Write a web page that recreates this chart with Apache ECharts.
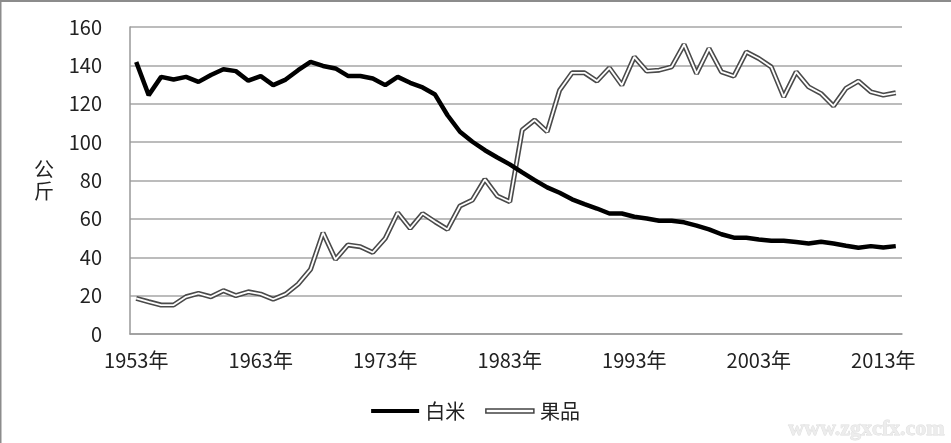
<!DOCTYPE html>
<html>
<head>
<meta charset="utf-8">
<script src="https://cdn.jsdelivr.net/npm/echarts@6/dist/echarts.min.js"></script>
<style>
html,body{margin:0;padding:0;background:#fff;}
#c{width:951px;height:443px;}
</style>
</head>
<body>
<div id="c"></div>
<script>
const years = ['1953年','1954年','1955年','1956年','1957年','1958年','1959年','1960年','1961年','1962年',
'1963年','1964年','1965年','1966年','1967年','1968年','1969年','1970年','1971年','1972年',
'1973年','1974年','1975年','1976年','1977年','1978年','1979年','1980年','1981年','1982年',
'1983年','1984年','1985年','1986年','1987年','1988年','1989年','1990年','1991年','1992年',
'1993年','1994年','1995年','1996年','1997年','1998年','1999年','2000年','2001年','2002年',
'2003年','2004年','2005年','2006年','2007年','2008年','2009年','2010年','2011年','2012年',
'2013年','2014年'];

const rice = [141.8,124.5,134,132.6,134,131.4,135,138,137,132,
134.4,129.7,132.6,137.5,141.8,139.7,138.4,134.5,134.5,133.2,
129.7,134,130.9,128.5,124.8,114,105.4,100.2,95.8,92,
88.4,84.2,80.2,76.4,73.6,70.2,67.7,65.4,62.8,62.8,
61.1,60.2,59,59,58.2,56.5,54.5,52,50.2,50.2,
49.3,48.6,48.6,47.9,47.2,48.1,47.2,46,45,45.8,
45.1,45.8];

const fruit = [18.6,16.8,15.1,15.1,19.4,21.2,19.4,22.6,20,22,
20.8,18.1,20.8,26,33.7,52.8,38.9,46.4,45.5,42.5,
49.8,63.2,55,62.8,58.5,54.5,66.7,69.8,80.6,71.9,
68.9,106.3,111.5,105.4,127,136.1,136.1,131.8,138.7,129.7,
144.4,137,137.5,139.2,150.9,135.7,148.8,136.6,134.4,147,
143.6,139.2,123.6,136.6,128.8,125.3,118.8,128,131.8,126.2,
124.5,125.7];

const yTicks = [0,20,40,60,80,100,120,140,160];

const font = '"Noto Sans CJK SC","Noto Sans",sans-serif';
const chart = echarts.init(document.getElementById('c'));
chart.setOption({
  animation:false,
  backgroundColor:'#fff',
  grid:{left:130,right:49,top:27,bottom:109,containLabel:false},
  legend:{
    bottom:17,left:'center',
    itemWidth:48,itemHeight:4,itemGap:20,
    textStyle:{fontFamily:font,fontSize:20,color:'#222',padding:[0,0,0,1]},
    data:[
      {name:'白米',icon:'rect',itemStyle:{color:'#000'}},
      {name:'果品',icon:'rect',itemStyle:{color:'#fff',borderColor:'#444',borderWidth:1.5}}
    ]
  },
  xAxis:{
    type:'category',data:years,boundaryGap:true,
    axisLine:{lineStyle:{color:'#999',width:1.5}},
    axisTick:{show:false},
    axisLabel:{interval:9,margin:16,fontFamily:font,fontSize:20,color:'#222'}
  },
  yAxis:{
    type:'value',min:yTicks[0],max:yTicks[yTicks.length-1],interval:20,
    name:'公\n斤',nameLocation:'middle',nameRotate:0,nameGap:76,
    nameTextStyle:{fontFamily:font,fontSize:20,color:'#222',lineHeight:22},
    axisLine:{show:true,lineStyle:{color:'#999',width:1.5}},
    axisTick:{show:false},
    splitLine:{lineStyle:{color:'#a6a6a6',width:1.5}},
    axisLabel:{margin:28,fontFamily:font,fontSize:20,color:'#222'}
  },
  graphic:[
    {type:'rect',shape:{x:0,y:0,width:951,height:2},style:{fill:'#8c8c8c'},silent:true},
    {type:'rect',shape:{x:0,y:0,width:1.5,height:443},style:{fill:'#8c8c8c'},silent:true},
    {type:'text',right:6,bottom:2,silent:true,
     style:{text:'www.zgxcfx.com',font:'bold 22px "Liberation Serif",serif',fill:'rgba(235,235,235,0.9)',stroke:'rgba(200,200,200,0.6)',lineWidth:0.8}}
  ],
  series:[
    {name:'白米',type:'line',data:rice,symbol:'none',z:3,
     lineStyle:{color:'#000',width:4.5}},
    {name:'果品',type:'line',data:fruit,symbol:'none',z:2,
     lineStyle:{color:'#4a4a4a',width:5}},
    {name:'果品',type:'line',data:fruit,symbol:'none',z:2.5,
     lineStyle:{color:'#fff',width:1.8}}
  ]
});
</script>
</body>
</html>
